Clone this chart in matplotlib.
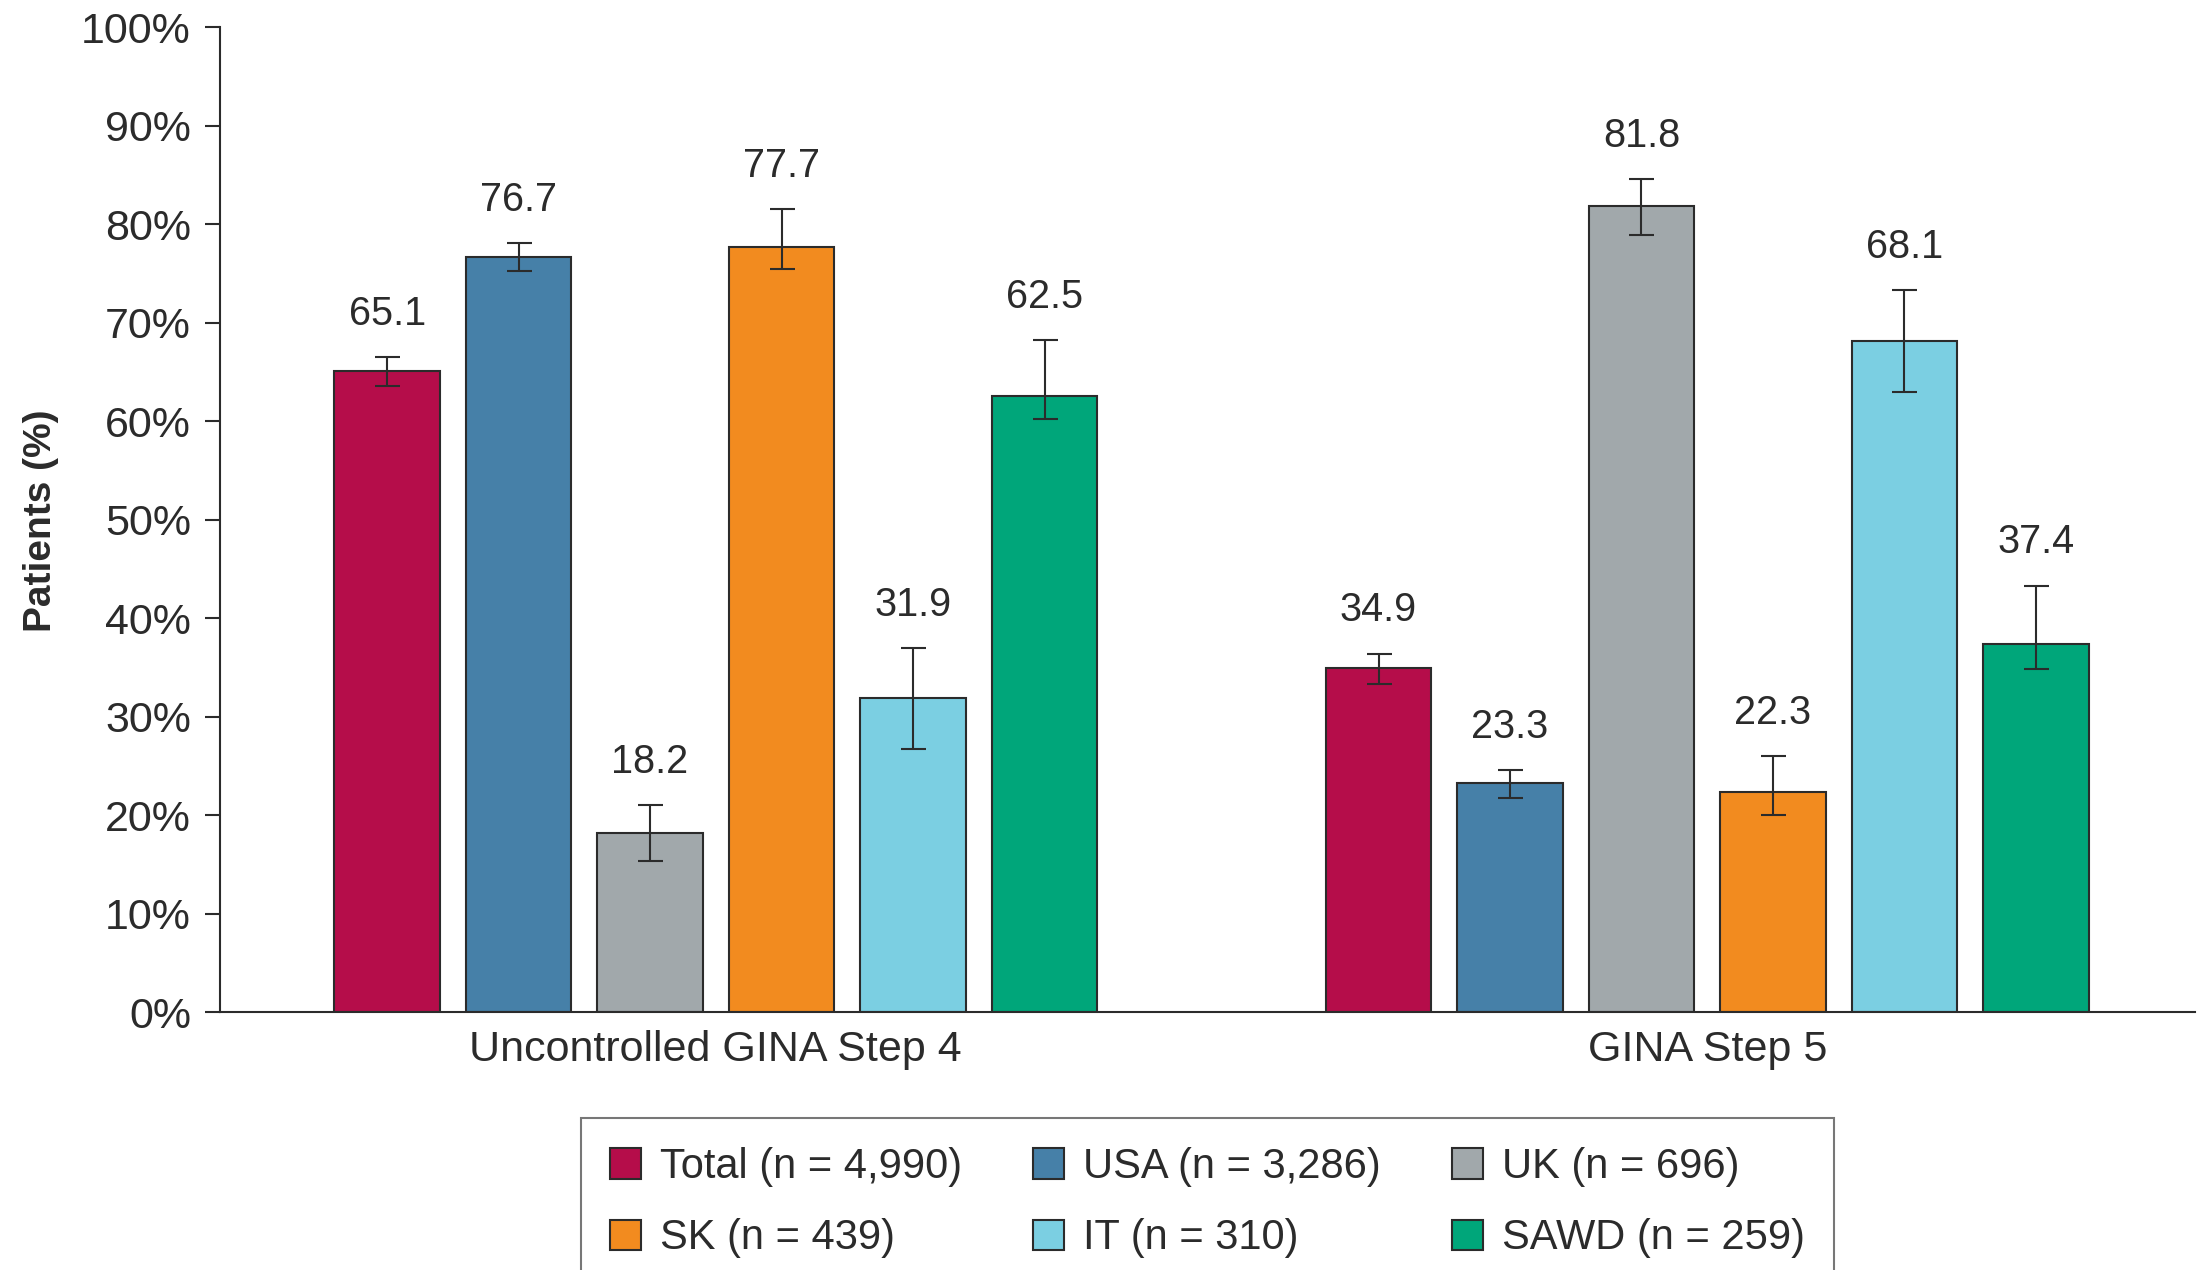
import matplotlib.pyplot as plt
import numpy as np

plt.rcParams['font.family'] = ['Liberation Sans', 'DejaVu Sans']

groups = ["Uncontrolled GINA Step 4", "GINA Step 5"]
series = ["Total (n = 4,990)", "USA (n = 3,286)", "UK (n = 696)",
          "SK (n = 439)", "IT (n = 310)", "SAWD (n = 259)"]
colors = ["#B50D4A", "#4680A8", "#A1A8AB", "#F28B1F", "#7BCFE2", "#00A67A"]

# percentages per series: [step 4, step 5]
values = [[65.1, 34.9], [76.7, 23.3], [18.2, 81.8],
          [77.7, 22.3], [31.9, 68.1], [62.5, 37.4]]
ci_low = [[63.6, 33.3], [75.2, 21.7], [15.3, 78.9],
          [75.4, 20.0], [26.7, 62.9], [60.2, 34.8]]
ci_high = [[66.5, 36.4], [78.1, 24.6], [21.0, 84.6],
           [81.5, 26.0], [37.0, 73.3], [68.2, 43.3]]

yticks = [0, 10, 20, 30, 40, 50, 60, 70, 80, 90, 100]
ytick_labels = [str(t) + "%" for t in yticks]

dark = "#2b2b2b"
fig = plt.figure(figsize=(22.03, 12.70), dpi=100)
ax = fig.add_axes([0.0999, 0.2031, 0.8965, 0.7756])

group_gap = 7.54
handles = []
for i in range(len(series)):
    x = np.array([i, i + group_gap])
    v = np.array(values[i])
    lo = v - np.array(ci_low[i])
    hi = np.array(ci_high[i]) - v
    b = ax.bar(x, v, width=0.8, color=colors[i], edgecolor=dark, linewidth=1.5,
               label=series[i], zorder=2)
    handles.append(b)
    ax.errorbar(x, v, yerr=[lo, hi], fmt='none', ecolor=dark, elinewidth=1.5,
                capsize=9, capthick=1.5, zorder=3)
    for xx, vv, top in zip(x, v, ci_high[i]):
        ax.annotate("%.1f" % vv, (xx, top), xytext=(0, 31), textcoords='offset points',
                    ha='center', va='center', fontsize=28.5, color=dark)

ax.set_xlim(-1.27, 13.75)
ax.set_ylim(0, 100)
ax.set_yticks(yticks)
ax.set_yticklabels(ytick_labels, fontsize=31, color=dark)
ax.set_xticks([2.5, 2.5 + group_gap])
ax.set_xticklabels(groups, fontsize=31, color=dark)
ax.tick_params(axis='x', length=0, pad=13)
ax.tick_params(axis='y', length=11, width=1.5, color=dark, pad=10)
for s in ['top', 'right']:
    ax.spines[s].set_visible(False)
for s in ['left', 'bottom']:
    ax.spines[s].set_color(dark)
    ax.spines[s].set_linewidth(1.5)

fig.text(0.0185, 0.59, "Patients (%)", rotation=90, fontsize=28, fontweight='bold',
         ha='center', va='center', color=dark)

# row-major order for a 3-column legend
order = [0, 3, 1, 4, 2, 5]
leg = fig.legend([handles[k] for k in order], [series[k] for k in order],
                 ncol=3, loc='upper center', bbox_to_anchor=(0.548, 0.1197),
                 borderaxespad=0, fontsize=30, frameon=True, fancybox=False,
                 handlelength=0.75, handleheight=0.75, handletextpad=0.45,
                 columnspacing=1.7, labelspacing=0.75, borderpad=0.7)
leg.get_frame().set_edgecolor("#555555")
leg.get_frame().set_linewidth(1.5)
for t in leg.get_texts():
    t.set_color(dark)

fig.savefig("out.png", dpi=100)
